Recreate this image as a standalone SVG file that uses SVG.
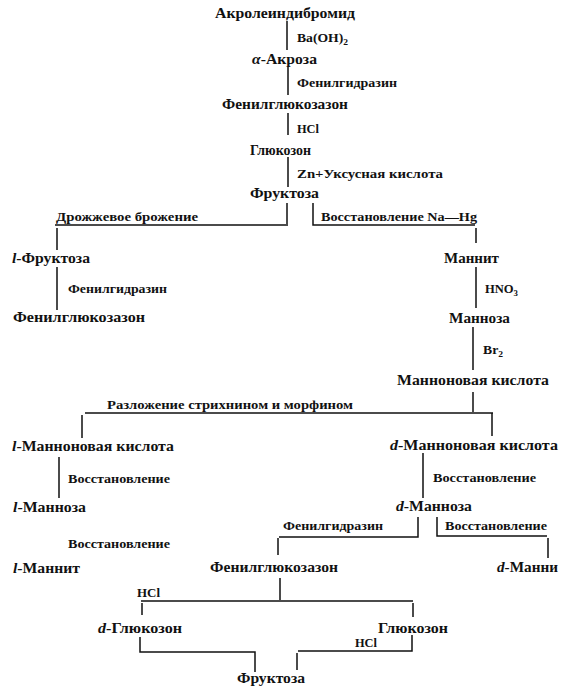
<svg xmlns="http://www.w3.org/2000/svg" width="571" height="700" viewBox="0 0 571 700">
<style>
.n{font-family:"Liberation Serif","DejaVu Serif",serif;font-weight:bold;font-size:15.5px;fill:#111}
.l{font-family:"Liberation Serif","DejaVu Serif",serif;font-weight:bold;font-size:11.5px;fill:#111}
.i{font-style:italic}
.s{font-size:8px}
#connectors path{fill:none;stroke:#111;stroke-width:1.5}
</style>
<rect width="571" height="700" fill="#fff"/>
<g id="connectors">
<path d="M287 21V50M288 67V95M288 113V135M288 157V187M287 203V226"/>
<path d="M55 225H286M57 228V250M57 267V310"/>
<path d="M313 203V225H475M476 228V243M476 267V308M473 327V370M473 392V412"/>
<path d="M85 413H493M82 415V438M492 413V436M59 457V498M423 453V498"/>
<path d="M418 517V537H279M278 538V555M437 517V536H547M548 538V558"/>
<path d="M280 578V600M141 601H413M142 603V615M413 603V617"/>
<path d="M140 637V652H255V672M412 635V651H298M297 653V670"/>
<text class="l" x="297" y="42" textLength="51" lengthAdjust="spacingAndGlyphs">Ba(OH)<tspan class="s" dy="3">2</tspan></text>
<text class="l" x="297" y="87" textLength="100" lengthAdjust="spacingAndGlyphs">Фенилгидразин</text>
<text class="l" x="297" y="133" textLength="22" lengthAdjust="spacingAndGlyphs">HCl</text>
<text class="l" x="297" y="178" textLength="146" lengthAdjust="spacingAndGlyphs">Zn+Уксусная кислота</text>
<text class="l" x="56" y="221" textLength="142" lengthAdjust="spacingAndGlyphs">Дрожжевое брожение</text>
<text class="l" x="321" y="221" textLength="156" lengthAdjust="spacingAndGlyphs">Восстановление Na—Hg</text>
<text class="l" x="68" y="293" textLength="99" lengthAdjust="spacingAndGlyphs">Фенилгидразин</text>
<text class="l" x="485" y="293" textLength="33" lengthAdjust="spacingAndGlyphs">HNO<tspan class="s" dy="3">3</tspan></text>
<text class="l" x="483" y="354" textLength="20" lengthAdjust="spacingAndGlyphs">Br<tspan class="s" dy="3">2</tspan></text>
<text class="l" x="107" y="409" textLength="246" lengthAdjust="spacingAndGlyphs">Разложение стрихнином и морфином</text>
<text class="l" x="68" y="483" textLength="102" lengthAdjust="spacingAndGlyphs">Восстановление</text>
<text class="l" x="433" y="482" textLength="103" lengthAdjust="spacingAndGlyphs">Восстановление</text>
<text class="l" x="68" y="548" textLength="102" lengthAdjust="spacingAndGlyphs">Восстановление</text>
<text class="l" x="283" y="530" textLength="100" lengthAdjust="spacingAndGlyphs">Фенилгидразин</text>
<text class="l" x="445" y="530" textLength="102" lengthAdjust="spacingAndGlyphs">Восстановление</text>
<text class="l" x="137" y="597" textLength="23" lengthAdjust="spacingAndGlyphs">HCl</text>
<text class="l" x="355" y="647" textLength="22" lengthAdjust="spacingAndGlyphs">HCl</text>
</g>
<g id="akroleindibromid"><text class="n" x="215" y="18" textLength="140" lengthAdjust="spacingAndGlyphs">Акролеиндибромид</text></g>
<g id="a-akroza"><text class="n" x="252" y="64" textLength="65" lengthAdjust="spacingAndGlyphs"><tspan class="i">α</tspan>-Акроза</text></g>
<g id="fenilglyukozazon1"><text class="n" x="222" y="109" textLength="126" lengthAdjust="spacingAndGlyphs">Фенилглюкозазон</text></g>
<g id="glyukozon1"><text class="n" x="250" y="155" textLength="61" lengthAdjust="spacingAndGlyphs">Глюкозон</text></g>
<g id="fruktoza1"><text class="n" x="250" y="198" textLength="69" lengthAdjust="spacingAndGlyphs">Фруктоза</text></g>
<g id="l-fruktoza"><text class="n" x="12" y="263" textLength="78" lengthAdjust="spacingAndGlyphs"><tspan class="i">l</tspan>-Фруктоза</text></g>
<g id="fenilglyukozazon2"><text class="n" x="13" y="322" textLength="132" lengthAdjust="spacingAndGlyphs">Фенилглюкозазон</text></g>
<g id="mannit"><text class="n" x="444" y="263" textLength="55" lengthAdjust="spacingAndGlyphs">Маннит</text></g>
<g id="mannoza"><text class="n" x="449" y="323" textLength="61" lengthAdjust="spacingAndGlyphs">Манноза</text></g>
<g id="mannonovaya"><text class="n" x="397" y="385" textLength="152" lengthAdjust="spacingAndGlyphs">Манноновая кислота</text></g>
<g id="l-mannonovaya"><text class="n" x="12" y="451" textLength="162" lengthAdjust="spacingAndGlyphs"><tspan class="i">l</tspan>-Манноновая кислота</text></g>
<g id="l-mannoza"><text class="n" x="13" y="512" textLength="73" lengthAdjust="spacingAndGlyphs"><tspan class="i">l</tspan>-Манноза</text></g>
<g id="l-mannit"><text class="n" x="13" y="573" textLength="67" lengthAdjust="spacingAndGlyphs"><tspan class="i">l</tspan>-Маннит</text></g>
<g id="d-mannonovaya"><text class="n" x="390" y="450" textLength="168" lengthAdjust="spacingAndGlyphs"><tspan class="i">d</tspan>-Манноновая кислота</text></g>
<g id="d-mannoza"><text class="n" x="396" y="511" textLength="76" lengthAdjust="spacingAndGlyphs"><tspan class="i">d</tspan>-Манноза</text></g>
<g id="d-mannit"><text class="n" x="497" y="572" textLength="61" lengthAdjust="spacingAndGlyphs"><tspan class="i">d</tspan>-Манни</text></g>
<g id="fenilglyukozazon3"><text class="n" x="210" y="572" textLength="128" lengthAdjust="spacingAndGlyphs">Фенилглюкозазон</text></g>
<g id="d-glyukozon"><text class="n" x="98" y="633" textLength="84" lengthAdjust="spacingAndGlyphs"><tspan class="i">d</tspan>-Глюкозон</text></g>
<g id="glyukozon2"><text class="n" x="378" y="633" textLength="70" lengthAdjust="spacingAndGlyphs">Глюкозон</text></g>
<g id="fruktoza2"><text class="n" x="237" y="683" textLength="68" lengthAdjust="spacingAndGlyphs">Фруктоза</text></g>
</svg>
